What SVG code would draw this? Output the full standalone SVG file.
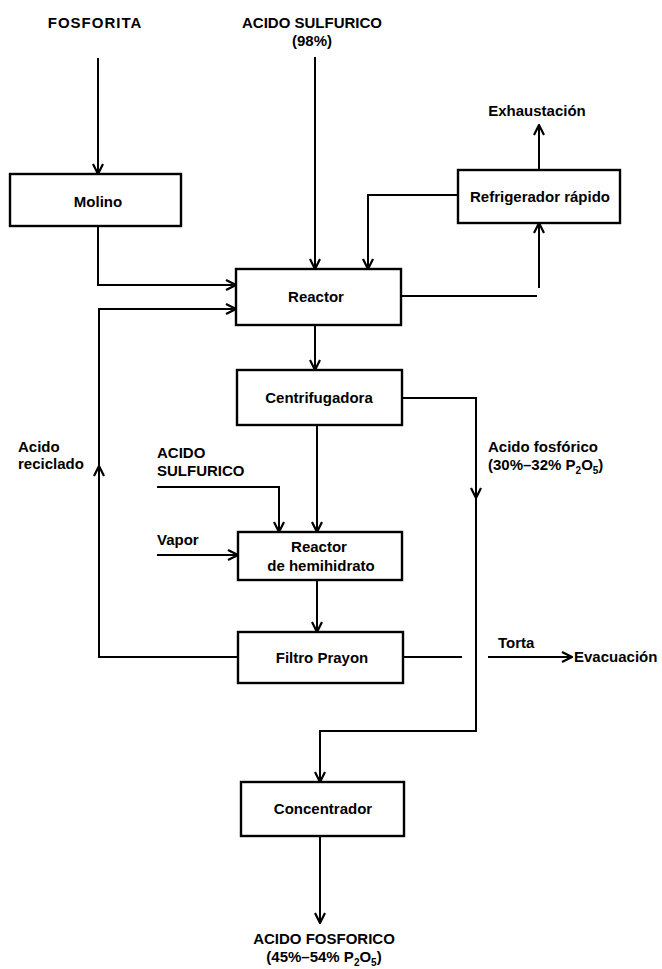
<svg xmlns="http://www.w3.org/2000/svg" width="662" height="969" viewBox="0 0 662 969">
  <style>
    .box { fill: #fff; stroke: #000; stroke-width: 2.4; }
    .ln { fill: none; stroke: #000; stroke-width: 2; }
    .arr { fill: none; stroke: #000; stroke-width: 2; marker-end: url(#ah); }
    text { font-family: "Liberation Sans", Arial, sans-serif; font-weight: bold; font-size: 15px; fill: #000; }
    .c { text-anchor: middle; }
    .cap { letter-spacing: 1px; }
    .sub { font-size: 10px; }
  </style>
  <defs>
    <marker id="ah" viewBox="0 0 12 12" refX="11" refY="6" markerWidth="12" markerHeight="12" markerUnits="userSpaceOnUse" orient="auto">
      <path d="M1,1 L11,6 L1,11" fill="none" stroke="#000" stroke-width="2.2"/>
    </marker>
  </defs>

  <rect width="662" height="969" fill="#fff"/>

  <!-- connectors -->
  <g id="connectors">
    <path class="arr" d="M98 58 V174"/>
    <path class="arr" d="M315 57 V269"/>
    <path class="arr" d="M98 226 V285 H236"/>
    <path class="arr" d="M458 195 H368 V269"/>
    <path class="ln" d="M401 296 H537"/>
    <path class="arr" d="M539 288 V223"/>
    <path class="arr" d="M539 170 V125"/>
    <path class="arr" d="M315 325 V370"/>
    <path class="arr" d="M402 398 H476 V498"/>
    <path class="arr" d="M476 494 V731 H320 V782"/>
    <path class="arr" d="M317 425 V532"/>
    <path class="arr" d="M157 487 H279 V532"/>
    <path class="arr" d="M157 555 H238"/>
    <path class="arr" d="M317 580 V632"/>
    <path class="arr" d="M238 657 H99 V466"/>
    <path class="arr" d="M99 470 V309 H236"/>
    <path class="ln" d="M403 657 H462"/>
    <path class="arr" d="M488 657 H572"/>
    <path class="arr" d="M320 836 V923"/>
  </g>

  <!-- feed and product labels -->
  <g id="labels">
    <text class="c cap" x="95" y="28">FOSFORITA</text>
    <text class="c" x="312" y="28">ACIDO SULFURICO</text>
    <text class="c" x="312" y="46">(98%)</text>
    <text class="c" x="537" y="116">Exhaustación</text>
    <text x="488" y="452">Acido fosfórico</text>
    <text x="488" y="470">(30%–32% P<tspan class="sub" dy="4">2</tspan><tspan dy="-4">O</tspan><tspan class="sub" dy="4">5</tspan><tspan dy="-4">)</tspan></text>
    <text x="18" y="452">Acido</text>
    <text x="18" y="469">reciclado</text>
    <text x="157" y="458">ACIDO</text>
    <text x="157" y="476">SULFURICO</text>
    <text x="157" y="545">Vapor</text>
    <text x="498" y="648">Torta</text>
    <text x="574" y="662">Evacuación</text>
    <text class="c" x="324" y="944">ACIDO FOSFORICO</text>
    <text class="c" x="324" y="962">(45%–54% P<tspan class="sub" dy="4">2</tspan><tspan dy="-4">O</tspan><tspan class="sub" dy="4">5</tspan><tspan dy="-4">)</tspan></text>
  </g>

  <!-- process units -->
  <g id="molino">
    <rect class="box" x="10" y="174" width="171" height="52"/>
    <text class="c" x="98" y="207">Molino</text>
  </g>
  <g id="refrigerador">
    <rect class="box" x="458" y="170" width="162" height="53"/>
    <text class="c" x="540" y="202">Refrigerador rápido</text>
  </g>
  <g id="reactor">
    <rect class="box" x="236" y="269" width="165" height="56"/>
    <text class="c" x="316" y="302">Reactor</text>
  </g>
  <g id="centrifugadora">
    <rect class="box" x="237" y="370" width="165" height="55"/>
    <text class="c" x="319" y="403">Centrifugadora</text>
  </g>
  <g id="reactor-hemihidrato">
    <rect class="box" x="238" y="532" width="164" height="48"/>
    <text class="c" x="319" y="552">Reactor</text>
    <text class="c" x="321" y="571">de hemihidrato</text>
  </g>
  <g id="filtro">
    <rect class="box" x="238" y="632" width="165" height="51"/>
    <text class="c" x="322" y="663">Filtro Prayon</text>
  </g>
  <g id="concentrador">
    <rect class="box" x="241" y="782" width="163" height="54"/>
    <text class="c" x="323" y="814">Concentrador</text>
  </g>
</svg>
